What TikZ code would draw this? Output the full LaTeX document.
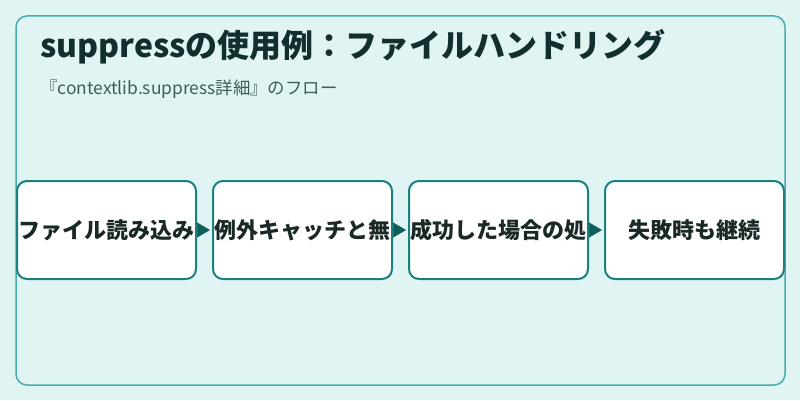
\documentclass[tikz,border=0pt]{standalone}
\usepackage{fontspec}
\setmainfont{Noto Sans CJK JP}
\usepackage{tikz}
\usetikzlibrary{arrows.meta,positioning,calc}
\definecolor{bgcol}{HTML}{E0F4F3}
\definecolor{framecol}{HTML}{4AABAB}
\definecolor{boxcol}{HTML}{1A7F7F}
\definecolor{tipcol}{HTML}{0F5E5A}
\definecolor{titlecol}{HTML}{122E2E}
\definecolor{textcol}{HTML}{1A2828}
\definecolor{subcol}{HTML}{3F5C5C}
\tikzset{
    -{Triangle[length=13pt,width=15pt]},auto,node distance =1 cm and 15pt,
    step box/.style ={rectangle, rounded corners=10pt, draw=boxcol, line width=2pt, fill=white,
        minimum width=179pt, minimum height=98pt, inner sep=0pt, text=textcol,
        font=\fontsize{22}{26}\selectfont\bfseries},
    flow/.style = {tipcol, line width=0.5pt, shorten >=2pt}
}
\begin{document}
\begin{tikzpicture}[x=1pt,y=1pt]
    % Background and frame
    \fill[bgcol] (0,0) rectangle (800,400);
    \useasboundingbox (0,0) rectangle (800,400);
    \draw[-, framecol, line width=1.5pt, rounded corners=11pt] (16,15) rectangle (785,384);

    %%Heading
    \node[anchor=west, inner sep=0pt, text=titlecol, font=\fontsize{32}{36}\selectfont\bfseries] (title) at (40,353) {suppressの使用例：ファイルハンドリング};
    \node[anchor=west, inner sep=0pt, text=subcol, font=\fontsize{17.4}{20}\selectfont] (subtitle) at (40,311) {『contextlib.suppress詳細』のフロー};

    %%Nodes
    \node[step box] (read) at (106.5,170) {ファイル読み込み};
    \node[step box] (catch) [right =of read] {例外キャッチと無};
    \node[step box] (success) [right =of catch] {成功した場合の処};
    \node[step box] (continue) [right =of success] {失敗時も継続};

    % Directed edge
    \path (read) edge[flow] (catch);
    \path (catch) edge[flow] (success);
    \path (success) edge[flow] (continue);
\end{tikzpicture}
\end{document}
